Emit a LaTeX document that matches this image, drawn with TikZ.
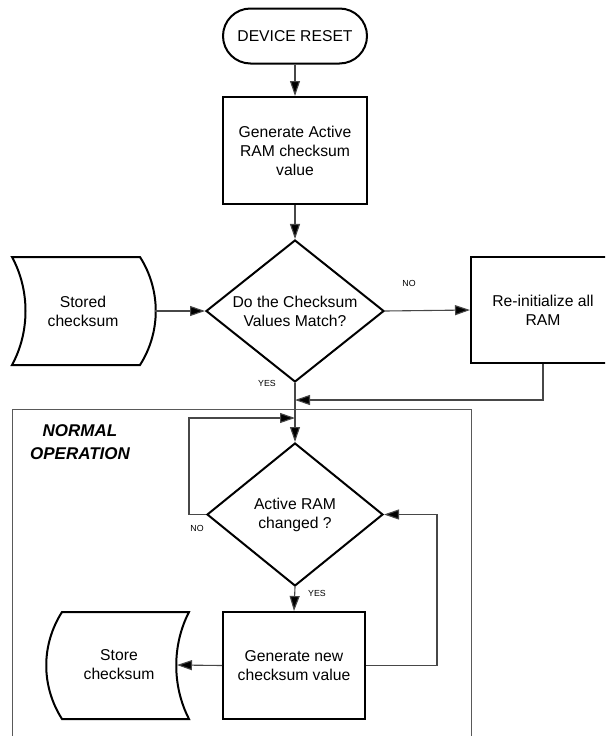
\documentclass[tikz,border=0pt]{standalone}
\usepackage{fontspec}
\setmainfont{Liberation Sans}
\usetikzlibrary{arrows.meta,shapes.geometric}
\begin{document}
\begin{tikzpicture}[x=1pt,y=-1pt,
  shapeline/.style={line width=2pt,line join=miter},
  boxnode/.style={shapeline,draw,rectangle,inner sep=0pt,align=center,font=\fontsize{15.7}{19}\selectfont},
  decnode/.style={shapeline,draw,diamond,inner sep=0pt},
  txt/.style={align=center,font=\fontsize{15.7}{19}\selectfont,inner sep=0pt},
  small/.style={font=\fontsize{8.8}{10}\selectfont,inner sep=0pt},
  conn/.style={draw=black!72,line width=1.1pt,-{Triangle[length=15pt,width=10pt,fill=black]}},
  frame/.style={draw=black!65,line width=0.9pt}
]
\useasboundingbox (0,0) rectangle (605,736);
\clip (0,0) rectangle (605,736);

% frame of normal operation
\draw[frame] (12,745) -- (12,409) -- (471,409) -- (471,745);
\node[font=\fontsize{17}{23}\bfseries\itshape\selectfont,align=center,inner sep=0pt] (normop) at (80,442) {NORMAL\\OPERATION};

% nodes
\node[boxnode,rounded corners=27.5pt,minimum width=144pt,minimum height=55pt] (reset) at (295,36) {DEVICE RESET};
\node[boxnode,minimum width=144pt,minimum height=107pt] (gen1) at (295,150.5) {Generate Active\\RAM checksum\\value};
\node[decnode,minimum width=178pt,minimum height=142pt] (dec1) at (295,311) {};
\node[txt] at (dec1) {Do the Checksum\\Values Match?};
\node[boxnode,minimum width=144pt,minimum height=106pt] (reinit) at (543,310) {Re-initialize all\\RAM};

% stored checksum (bulging right)
\node[txt] (stored) at (83,311) {Stored\\checksum};
\draw[shapeline] (12,257) -- (140,257) .. controls (161,290) and (161,332) .. (140,365)
  -- (12,365) .. controls (30,332) and (30,290) .. cycle;

\node[decnode,minimum width=176pt,minimum height=143pt] (dec2) at (295,514.5) {};
\node[txt] at (dec2) {Active RAM\\changed ?};
\node[boxnode,minimum width=142pt,minimum height=107pt] (gen2) at (294,665.5) {Generate new\\checksum value};

% store checksum (bulging left)
\node[txt] (store) at (119,665) {Store\\checksum};
\draw[shapeline] (62,612) -- (189,612) .. controls (172,645) and (172,686) .. (189,719)
  -- (62,719) .. controls (41,686) and (41,645) .. cycle;
\coordinate (storeR) at (177,665);
\coordinate (stuckR) at (155,311);

% labels
\node[small] (no1) at (409,283) {NO};
\node[small] (yes1) at (267,383) {YES};
\node[small] (no2) at (197,528) {NO};
\node[small] (yes2) at (317,593) {YES};

% connectors
\draw[conn] (reset) -- (gen1);
\draw[conn] (gen1) -- (dec1);
\draw[conn] (stuckR) -- (dec1.west);
\draw[conn] (dec1.east) -- (reinit.west);
\draw[conn] (dec1.south) -- (dec2.north);
\coordinate (m1) at (295,400);
\draw[conn] (reinit.south -| 543,0) -- (543,400) -- (m1);
\coordinate (m2) at (295,418);
\draw[conn] (dec2.west) -- (189,514.5) -- (189,418) -- (m2);
\draw[conn] (dec2.south) -- (gen2.north);
\draw[conn] (gen2.east) -- (437,665.5) -- (437,514.5) -- (dec2.east);
\draw[conn] (gen2.west) -- (storeR);
\end{tikzpicture}
\end{document}
